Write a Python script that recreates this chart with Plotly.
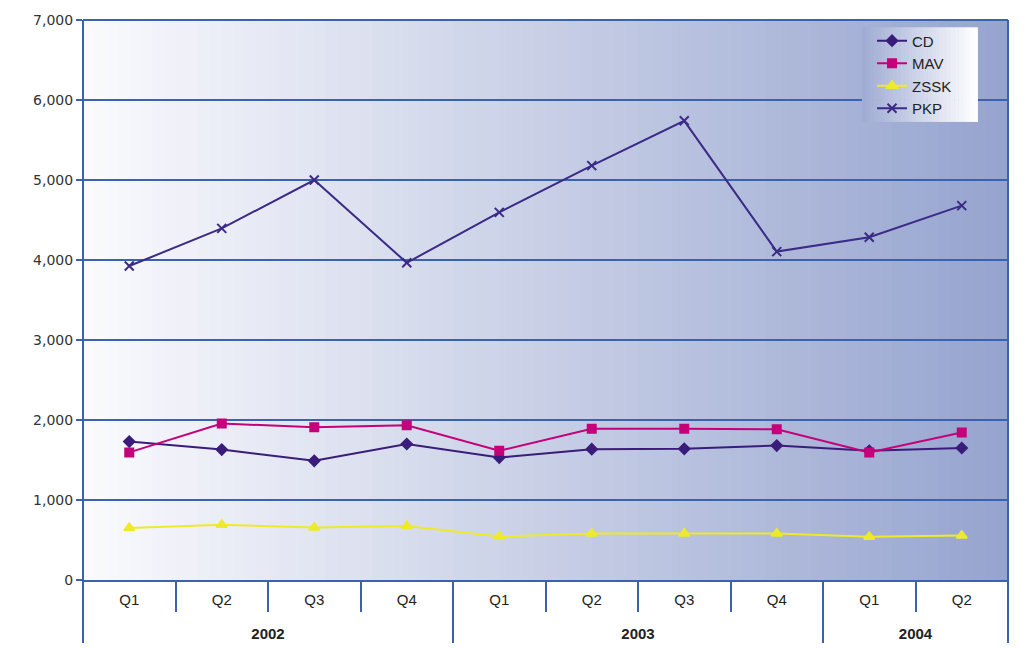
import plotly.graph_objects as go

years = ["2002"] * 4 + ["2003"] * 4 + ["2004"] * 2
quarters = ["Q1", "Q2", "Q3", "Q4", "Q1", "Q2", "Q3", "Q4", "Q1", "Q2"]

cd = [1730, 1630, 1490, 1700, 1530, 1635, 1640, 1680, 1615, 1650]
mav = [1595, 1955, 1910, 1935, 1615, 1890, 1890, 1885, 1595, 1845]
zssk = [650, 690, 655, 675, 545, 580, 580, 580, 540, 555]
pkp = [3925, 4395, 5000, 3965, 4595, 5180, 5740, 4105, 4285, 4680]

yticks = [0, 1000, 2000, 3000, 4000, 5000, 6000, 7000]

AXIS = "#3D62AD"
fig = go.Figure()

year_labels = ["<br><b>%s</b>" % y for y in years]

series = [
    ("CD", cd, "#3A1C7A", "diamond", 8),
    ("MAV", mav, "#C4007A", "square", 8),
    ("ZSSK", zssk, "#EEEA2A", "triangle-up", 9),
    ("PKP", pkp, "#3B2A86", "x-thin-open", 9),
]
for name, vals, col, sym, size in series:
    fig.add_trace(go.Scatter(
        x=[year_labels, quarters], y=vals, name=name, mode="lines+markers",
        line=dict(color=col, width=2),
        marker=dict(symbol=sym, size=size, color=col, line=dict(color=col, width=2)),
    ))

# gradient background of plot area
n = 80
c0 = (250, 250, 253)
c1 = (150, 164, 207)
shapes = []
for i in range(n):
    t = i / (n - 1)
    c = tuple(round(a + (b - a) * t) for a, b in zip(c0, c1))
    shapes.append(dict(type="rect", xref="paper", yref="paper",
                       x0=i / n, x1=(i + 1) / n + 0.001, y0=0, y1=1,
                       fillcolor="rgb(%d,%d,%d)" % c, line=dict(width=0), layer="below"))
# legend background gradient (blue-ish left to white right)
lx0, lx1, ly0, ly1 = 0.842, 0.967, 0.818, 0.987
m = 30
for i in range(m):
    t = i / (m - 1)
    a0 = (160, 172, 212)
    a1 = (255, 255, 255)
    c = tuple(round(a + (b - a) * t) for a, b in zip(a0, a1))
    shapes.append(dict(type="rect", xref="paper", yref="paper",
                       x0=lx0 + (lx1 - lx0) * i / m, x1=lx0 + (lx1 - lx0) * (i + 1) / m + 0.0005,
                       y0=ly0, y1=ly1,
                       fillcolor="rgb(%d,%d,%d)" % c, line=dict(width=0), layer="above"))
# left and right border lines extending down through category area
for xp in (0, 1):
    shapes.append(dict(type="line", xref="paper", yref="paper", x0=xp, x1=xp,
                       y0=-0.107, y1=1, line=dict(color=AXIS, width=2)))

fig.update_layout(
    width=1028, height=648,
    margin=dict(l=83, r=20, t=20, b=68),
    paper_bgcolor="white",
    plot_bgcolor="rgba(0,0,0,0)",
    shapes=shapes,
    showlegend=True,
    legend=dict(x=0.853, y=0.992, xanchor="left", yanchor="top",
                bgcolor="rgba(0,0,0,0)", borderwidth=0,
                font=dict(family="Liberation Sans Narrow, Liberation Sans, Arial", size=15, color="#222"),
                tracegroupgap=0, itemwidth=30),
    xaxis=dict(
        type="multicategory",
        automargin=False,
        showgrid=False,
        showline=True, linecolor=AXIS, linewidth=2,
        ticks="outside", tickson="boundaries", ticklen=30, tickcolor=AXIS, tickwidth=2,
        showdividers=True, dividercolor=AXIS, dividerwidth=2,
        ticklabelstandoff=5,
        tickfont=dict(family="Liberation Sans Narrow, Liberation Sans, Arial", size=15, color="#222"),
        range=[-0.5, 9.5],
    ),
    yaxis=dict(
        range=[0, 7000], tickvals=yticks, tickformat=",d",
        automargin=False,
        showgrid=True, gridcolor=AXIS, gridwidth=2,
        zeroline=False, showline=False,
        ticks="outside", ticklen=6, tickcolor=AXIS, tickwidth=2,
        tickfont=dict(family="DejaVu Sans, Verdana", size=14, color="#333"),
    ),
)
fig.add_shape(type="line", xref="paper", yref="paper", x0=0, x1=1, y0=1, y1=1,
              line=dict(color=AXIS, width=2))

fig.write_html("out.html")
